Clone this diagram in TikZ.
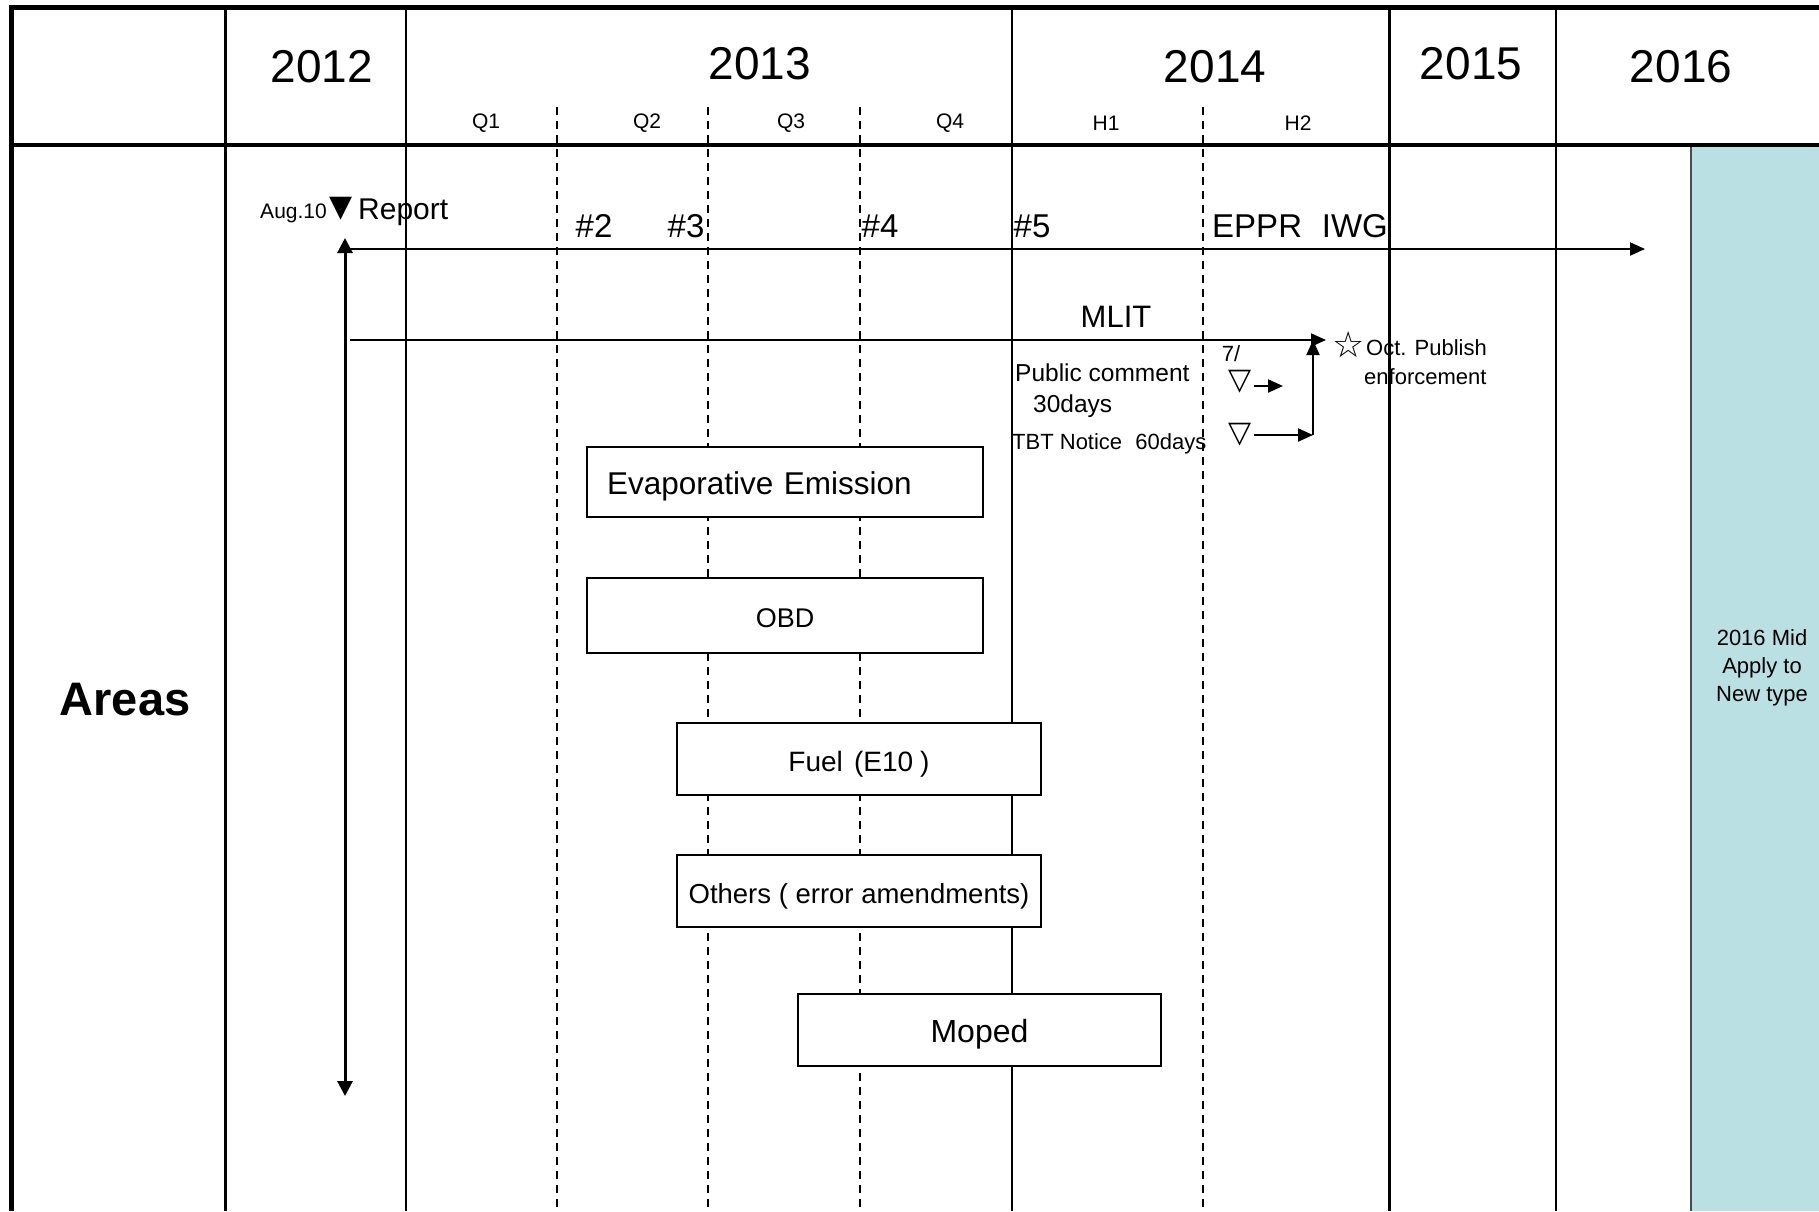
\documentclass[tikz,border=0pt]{standalone}
\usepackage{fontspec}
\setmainfont{Liberation Sans}
\newfontfamily\symf{DejaVu Sans}
\usetikzlibrary{arrows.meta}
\definecolor{tealbg}{RGB}{187,224,227}
\newcommand\fsz[1]{\fontsize{#1}{#1}\selectfont}
\begin{document}
\begin{tikzpicture}[x=1pt,y=-1pt,
  yr/.style={inner sep=0pt,font=\fsz{46}},
  ql/.style={inner sep=0pt,font=\fsz{21}},
  mk/.style={inner sep=0pt,font=\fsz{33}},
  sm/.style={inner sep=0pt,font=\fsz{22}},
  boxn/.style={draw,line width=1.6pt,fill=white,inner sep=0pt,font=\fsz{29},text depth=0pt,text height=24pt},
  grid/.style={line width=1.6pt},
  gridthick/.style={line width=3pt},
  dsh/.style={line width=1.6pt,dash pattern=on 8pt off 6pt},
  arr/.style={line width=2pt,-{Triangle[length=15pt,width=13pt]}},
  dbl/.style={line width=3pt,{Triangle[length=15pt,width=15pt]}-{Triangle[length=15pt,width=15pt]}}]
\useasboundingbox (0,0) rectangle (1819,1211);
% teal band
\fill[tealbg] (1691,145) rectangle (1819,1211);
\draw[line width=2.5pt,black!70] (1691,145) -- (1691,1211);
% dashed quarter lines
\foreach \x in {557,708,860,1203} \draw[dsh] (\x,107) -- (\x,1211);
% solid column lines
\draw[gridthick] (225,7) -- (225,1211);
\draw[grid] (406,7) -- (406,1211);
\draw[grid] (1012,7) -- (1012,1211);
\draw[gridthick] (1389,7) -- (1389,1211);
\draw[grid] (1556,7) -- (1556,1211);
% borders
\draw[line width=5pt] (11,1211) -- (11,7) -- (1819,7);
\draw[line width=4pt] (11,145) -- (1819,145);
% years
\node[yr] (y2012) at (322,67) {2012};
\node[yr] (y2013) at (760,64) {2013};
\node[yr] (y2014) at (1215,67) {2014};
\node[yr] (y2015) at (1471,64) {2015};
\node[yr] (y2016) at (1681,67) {2016};
\node[ql] (q1) at (486,123) {Q1};
\node[ql] (q2) at (647,123) {Q2};
\node[ql] (q3) at (791,123) {Q3};
\node[ql] (q4) at (950,123) {Q4};
\node[ql] (h1) at (1106,123) {H1};
\node[ql] (h2) at (1298,123) {H2};
% areas
\node[inner sep=0pt,font=\fsz{47}\bfseries] (areas) at (125,700) {Areas};
% report
\node[inner sep=0pt,font=\fsz{21},anchor=east] (aug) at (327,213) {Aug.10};
\node[inner sep=0pt,font=\symf\fsz{30}] (rtri) at (341,209) {▼};
\node[inner sep=0pt,font=\fsz{30},anchor=west] (report) at (358,212) {Report};
\coordinate (vtop) at (345,238);
\coordinate (vbot) at (345,1096);
\draw[dbl] (vbot) -- (vtop);
% EPPR line
\node[mk] (m2) at (594,226) {\#2};
\node[mk] (m3) at (686,226) {\#3};
\node[mk] (m4) at (880,226) {\#4};
\node[mk] (m5) at (1032,226) {\#5};
\node[mk,anchor=west] (eppr) at (1212,226) {EPPR\hspace{0.6em}IWG};
\coordinate (eS) at (345,249);
\coordinate (eE) at (1645,249);
\draw[arr] (eS) -- (eE);
% MLIT
\node[inner sep=0pt,font=\fsz{31}] (mlit) at (1116,317) {MLIT};
\coordinate (mS) at (350,340);
\coordinate (mE) at (1326,340);
\draw[arr] (mS) -- (mE);
\node[inner sep=0pt,font=\symf\fsz{36}] (star) at (1349,345) {☆};
\node[sm,anchor=west] (oct) at (1366,348) {Oct. Publish};
\node[sm,anchor=west] (enf) at (1364,377) {enforcement};
\node[sm] (seven) at (1231,354) {7/};
\node[inner sep=0pt,font=\fsz{24.5},anchor=west] (pubc) at (1015,373) {Public comment};
\node[inner sep=0pt,font=\fsz{24.5},anchor=west] (days30) at (1033,406) {30days};
\node[inner sep=0pt,font=\fsz{22},anchor=west] (tbt) at (1012,444) {TBT Notice\hspace{0.6em}60days};
\node[inner sep=0pt,font=\symf\fsz{30}] (tri1) at (1240,382) {▽};
\node[inner sep=0pt,font=\symf\fsz{30}] (tri2) at (1240,435) {▽};
\coordinate (a1S) at (1254,386);
\coordinate (a1E) at (1283,386);
\draw[arr] (a1S) -- (a1E);
\coordinate (a2S) at (1254,435);
\coordinate (a2E) at (1313,435);
\coordinate (vS) at (1313,435);
\coordinate (vE) at (1313,340);
\draw[arr] (a2S) -- (a2E);
\draw[arr] (vS) -- (vE);
% boxes
\node[boxn,minimum width=396pt,minimum height=70pt,text width=356pt,inner xsep=20pt,align=left,font=\fsz{31.5},text height=25pt] (evap) at (785,482) {Evaporative Emission};
\node[boxn,minimum width=396pt,minimum height=75pt,font=\fsz{27}] (obd) at (785,615.5) {OBD};
\node[boxn,minimum width=364pt,minimum height=72pt,font=\fsz{28}] (fuel) at (859,759) {Fuel\hspace{0.4em}(E10\hspace{0.25em})};
\node[boxn,minimum width=364pt,minimum height=72pt,font=\fsz{27.5}] (others) at (859,891) {Others ( error amendments)};
\node[boxn,minimum width=363pt,minimum height=72pt,font=\fsz{32},text height=25pt] (moped) at (979.5,1030) {Moped};
% 2016 note
\node[inner sep=0pt,font=\fsz{22},align=center] (mid) at (1762,668) {2016 Mid\\[6pt]Apply to\\[6pt]New type};
\end{tikzpicture}
\end{document}
